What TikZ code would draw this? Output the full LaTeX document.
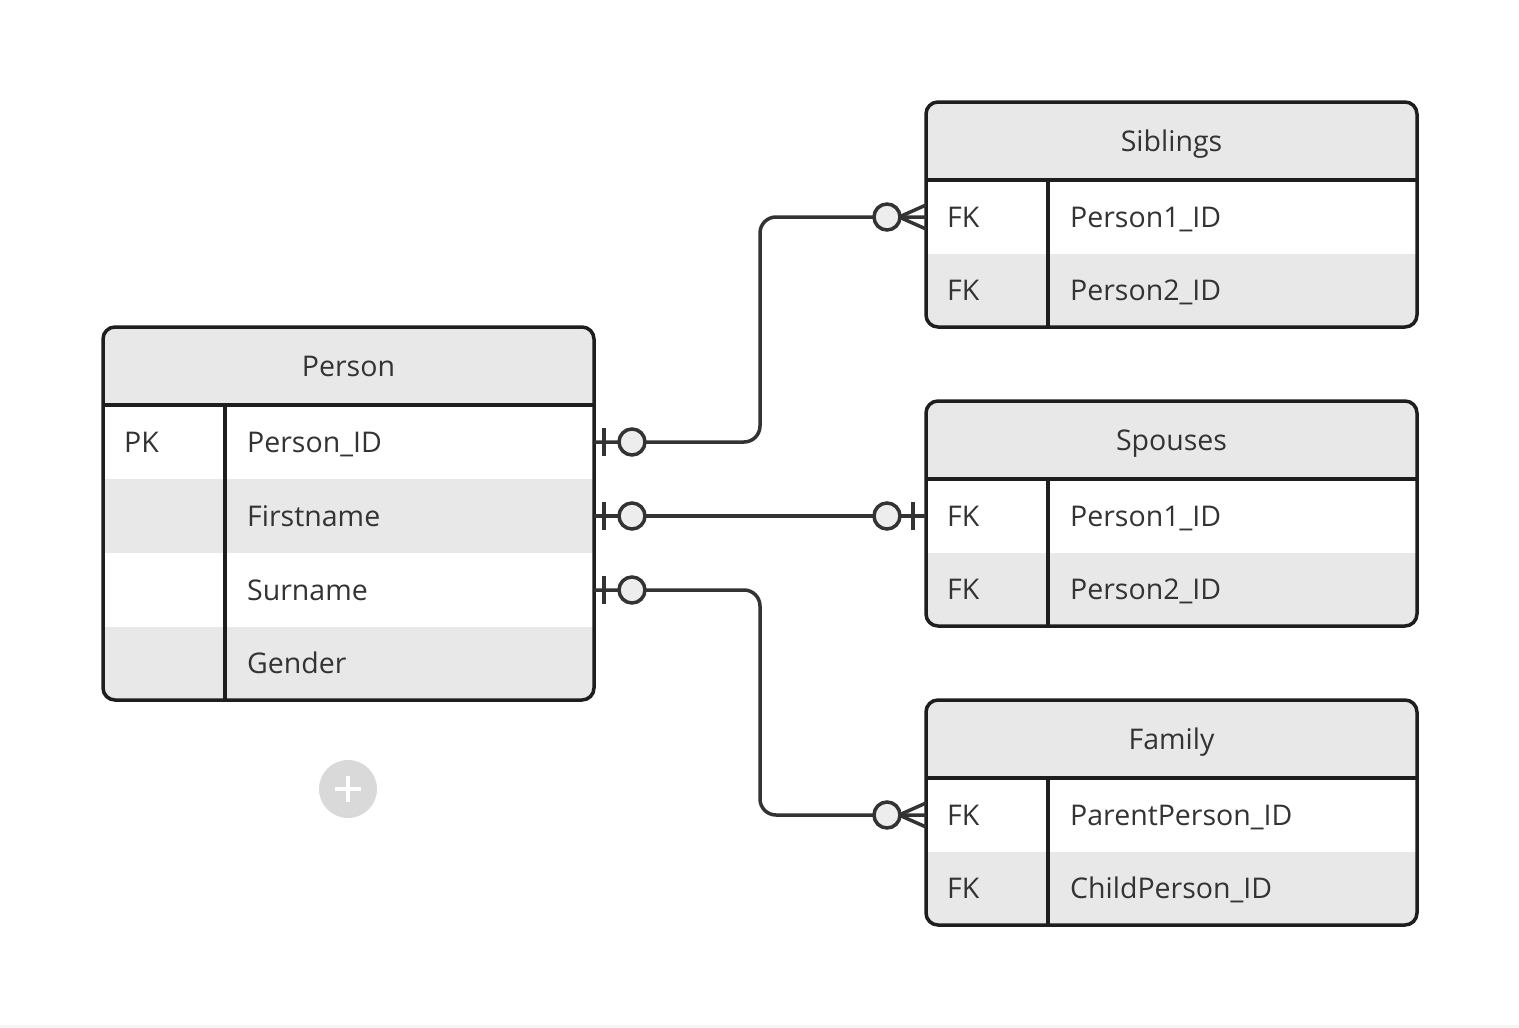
\documentclass[tikz,border=0pt]{standalone}
\usepackage{fontspec}
\setmainfont{Open Sans}
\usetikzlibrary{calc}
\definecolor{ink}{HTML}{1E1E1E}
\definecolor{wire}{HTML}{333333}
\definecolor{txt}{HTML}{333333}
\definecolor{band}{HTML}{E8E8E8}
\definecolor{knob}{HTML}{EDEDED}
\definecolor{btn}{HTML}{D9D9D9}
\tikzset{
  frame/.style={draw=ink, line width=3.5pt, rounded corners=12pt, minimum width=491pt, anchor=north west, inner sep=0pt, outer sep=0pt},
  rowbox/.style={minimum width=491pt, minimum height=74pt, anchor=north west, inner sep=0pt, outer sep=0pt},
  cell/.style={text=txt, inner sep=0pt, text height=22pt, text depth=2pt, font=\fontsize{28.5}{33}\selectfont},
  sepline/.style={draw=ink, line width=3.5pt},
  conn/.style={draw=wire, line width=3.5pt},
  knobstyle/.style={conn, fill=knob}
}
\begin{document}
\begin{tikzpicture}[x=1pt,y=-1pt]
\useasboundingbox (0,0) rectangle (1519,1028);
\fill[white] (0,0) rectangle (1519,1028);
\fill[black!4] (0,1025) rectangle (1519,1028);

% ---------- Person ----------
\begin{scope}
  \clip[rounded corners=12pt] (103,327) rectangle (594,700);
  \fill[white] (103,327) rectangle (594,700);
  \fill[band] (103,327) rectangle (594,405);
  \fill[band] (103,479) rectangle (594,553);
  \fill[band] (103,627) rectangle (594,700);
\end{scope}
\node[frame, minimum height=373pt] (person) at (103,327) {};
\node[cell] (person-t) at (348.5,366) {Person};
\draw[sepline] (103,405) -- (594,405);
\draw[sepline] (225,405) -- (225,700);
\node[rowbox] (person-1) at (103,405) {};
\node[rowbox] (person-2) at (103,479) {};
\node[rowbox] (person-3) at (103,553) {};
\node[rowbox, minimum height=73pt] (person-4) at (103,627) {};
\node[cell, anchor=west] (person-1k) at ([xshift=21pt]person-1.west) {PK};
\node[cell, anchor=west] (person-1f) at ([xshift=144pt]person-1.west) {Person\_ID};
\node[cell, anchor=west] (person-2f) at ([xshift=144pt]person-2.west) {Firstname};
\node[cell, anchor=west] (person-3f) at ([xshift=144pt]person-3.west) {Surname};
\node[cell, anchor=west] (person-4f) at ([xshift=144pt]person-4.west) {Gender};

% ---------- Siblings ----------
\begin{scope}
  \clip[rounded corners=12pt] (926,102) rectangle (1417,327);
  \fill[white] (926,102) rectangle (1417,327);
  \fill[band] (926,102) rectangle (1417,180);
  \fill[band] (926,254) rectangle (1417,327);
\end{scope}
\node[frame, minimum height=225pt] (sib) at (926,102) {};
\node[cell] (sib-t) at (1171.5,141) {Siblings};
\draw[sepline] (926,180) -- (1417,180);
\draw[sepline] (1048,180) -- (1048,327);
\node[rowbox] (sib-1) at (926,180) {};
\node[rowbox, minimum height=73pt] (sib-2) at (926,254) {};
\node[cell, anchor=west] (sib-1k) at ([xshift=21pt]sib-1.west) {FK};
\node[cell, anchor=west] (sib-1f) at ([xshift=144pt]sib-1.west) {Person1\_ID};
\node[cell, anchor=west] (sib-2k) at ([xshift=21pt]sib-2.west) {FK};
\node[cell, anchor=west] (sib-2f) at ([xshift=144pt]sib-2.west) {Person2\_ID};

% ---------- Spouses ----------
\begin{scope}
  \clip[rounded corners=12pt] (926,401) rectangle (1417,626);
  \fill[white] (926,401) rectangle (1417,626);
  \fill[band] (926,401) rectangle (1417,479);
  \fill[band] (926,553) rectangle (1417,626);
\end{scope}
\node[frame, minimum height=225pt] (sp) at (926,401) {};
\node[cell] (sp-t) at (1171.5,440) {Spouses};
\draw[sepline] (926,479) -- (1417,479);
\draw[sepline] (1048,479) -- (1048,626);
\node[rowbox] (sp-1) at (926,479) {};
\node[rowbox, minimum height=73pt] (sp-2) at (926,553) {};
\node[cell, anchor=west] (sp-1k) at ([xshift=21pt]sp-1.west) {FK};
\node[cell, anchor=west] (sp-1f) at ([xshift=144pt]sp-1.west) {Person1\_ID};
\node[cell, anchor=west] (sp-2k) at ([xshift=21pt]sp-2.west) {FK};
\node[cell, anchor=west] (sp-2f) at ([xshift=144pt]sp-2.west) {Person2\_ID};

% ---------- Family ----------
\begin{scope}
  \clip[rounded corners=12pt] (926,700) rectangle (1417,925);
  \fill[white] (926,700) rectangle (1417,925);
  \fill[band] (926,700) rectangle (1417,778);
  \fill[band] (926,852) rectangle (1417,925);
\end{scope}
\node[frame, minimum height=225pt] (fam) at (926,700) {};
\node[cell] (fam-t) at (1171.5,739) {Family};
\draw[sepline] (926,778) -- (1417,778);
\draw[sepline] (1048,778) -- (1048,925);
\node[rowbox] (fam-1) at (926,778) {};
\node[rowbox, minimum height=73pt] (fam-2) at (926,852) {};
\node[cell, anchor=west] (fam-1k) at ([xshift=21pt]fam-1.west) {FK};
\node[cell, anchor=west] (fam-1f) at ([xshift=144pt]fam-1.west) {ParentPerson\_ID};
\node[cell, anchor=west] (fam-2k) at ([xshift=21pt]fam-2.west) {FK};
\node[cell, anchor=west] (fam-2f) at ([xshift=144pt]fam-2.west) {ChildPerson\_ID};

% ---------- connectors ----------
\draw[conn, rounded corners=16pt] (person-1.east) -| ($(person-1.east)!.5!(sib-1.west)$) |- (sib-1.west);
\draw[conn] (person-2.east) -- (sp-1.west);
\draw[conn, rounded corners=16pt] (person-3.east) -| ($(person-3.east)!.5!(fam-1.west)$) |- (fam-1.west);

% Person side: bar + circle
\foreach \r in {person-1,person-2,person-3}{
  \draw[conn] ([xshift=10pt,yshift=14pt]\r.east) -- ([xshift=10pt,yshift=-14pt]\r.east);
  \draw[knobstyle] ([xshift=38pt]\r.east) circle (13pt);
}
% crow's feet (zero or many)
\foreach \r in {sib-1,fam-1}{
  \draw[conn] ([xshift=-27pt]\r.west) -- ([yshift=12pt]\r.west);
  \draw[conn] ([xshift=-27pt]\r.west) -- ([yshift=-12pt]\r.west);
  \draw[knobstyle] ([xshift=-39pt]\r.west) circle (13pt);
}
% zero or one at spouses
\draw[conn] ([xshift=-13pt,yshift=14pt]sp-1.west) -- ([xshift=-13pt,yshift=-14pt]sp-1.west);
\draw[knobstyle] ([xshift=-39pt]sp-1.west) circle (13pt);

% ---------- plus button ----------
\node[circle, fill=btn, minimum size=58pt, inner sep=0pt] (plus) at (348,789) {};
\draw[white, line width=3.5pt] ([xshift=-13pt]plus.center) -- ([xshift=13pt]plus.center);
\draw[white, line width=3.5pt] ([yshift=-13pt]plus.center) -- ([yshift=13pt]plus.center);
\end{tikzpicture}
\end{document}
